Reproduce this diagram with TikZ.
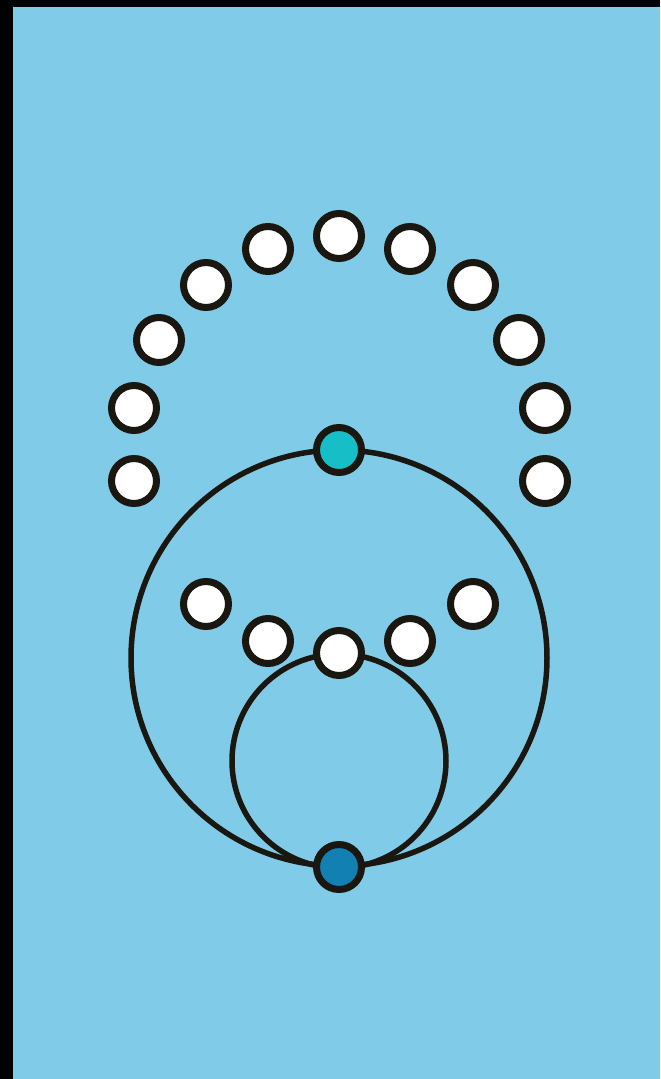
\documentclass[tikz,border=0pt]{standalone}
\usepackage{xcolor}
\usepackage{tikz}
\definecolor{mysky}{RGB}{128,203,232}
\definecolor{myink}{RGB}{26,22,16}
\definecolor{mycyan}{RGB}{22,190,200}
\definecolor{myteal}{RGB}{18,128,178}

\begin{document}
\begin{tikzpicture}[x=0.02cm, y=-0.02cm,
  bead/.style={circle, draw=myink, line width=0.14cm, fill=white, minimum size=0.9cm, inner sep=0pt},
  ring/.style={draw=myink, line width=0.11cm}]

\useasboundingbox (0,0) rectangle (660,1079);
\fill[black] (0,0) rectangle (660,1079);
\fill[mysky] (13,7) rectangle (660,1079);

\coordinate (bigc) at (339,658);
\coordinate (smallc) at (339,761);
\draw[ring] (bigc) circle[radius=208*0.02cm];
\draw[ring] (smallc) circle[radius=107*0.02cm];

% upper arc
\node[bead] (u1) at (134,481) {};
\node[bead] (u2) at (134,408) {};
\node[bead] (u3) at (159,340) {};
\node[bead] (u4) at (206,285) {};
\node[bead] (u5) at (268,249) {};
\node[bead] (u6) at (339,236) {};
\node[bead] (u7) at (410,249) {};
\node[bead] (u8) at (473,285) {};
\node[bead] (u9) at (519,340) {};
\node[bead] (u10) at (545,408) {};
\node[bead] (u11) at (545,481) {};

% lower arc
\node[bead] (l1) at (206,604) {};
\node[bead] (l2) at (268,641) {};
\node[bead] (l3) at (339,653) {};
\node[bead] (l4) at (410,641) {};
\node[bead] (l5) at (473,604) {};

\node[bead, fill=mycyan] (top) at (339,450) {};
\node[bead, fill=myteal] (bottom) at (339,867) {};
\end{tikzpicture}
\end{document}
